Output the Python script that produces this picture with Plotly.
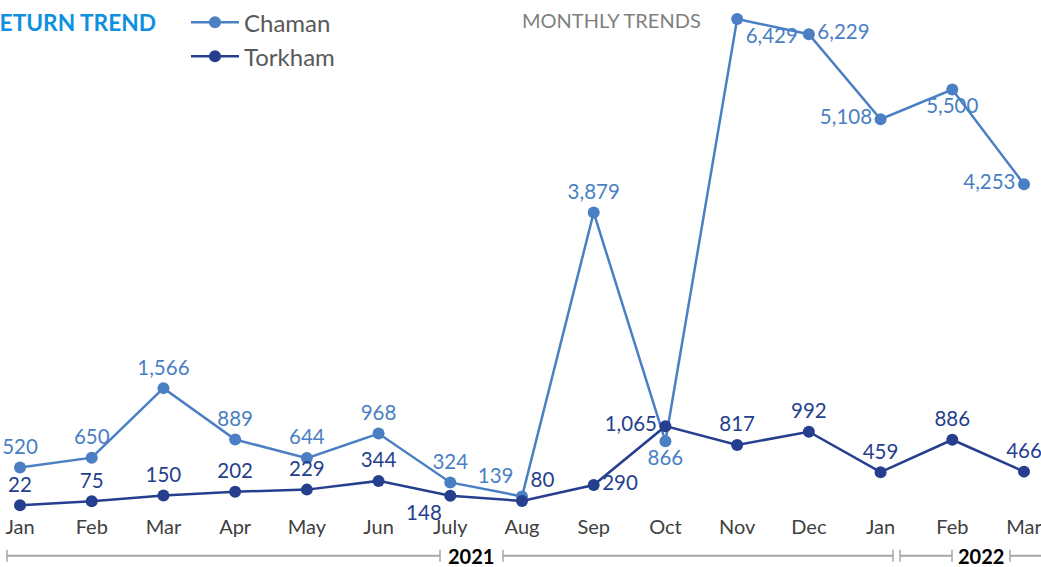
import plotly.graph_objects as go

months = ["Jan", "Feb", "Mar", "Apr", "May", "Jun", "July", "Aug", "Sep", "Oct",
          "Nov", "Dec", "Jan", "Feb", "Mar"]
chaman = [520, 650, 1566, 889, 644, 968, 324, 139, 3879, 866, 6429, 6229, 5108, 5500, 4253]
torkham = [22, 75, 150, 202, 229, 344, 148, 80, 290, 1065, 817, 992, 459, 886, 466]
chaman_pos = ["top center"] * 7 + ["top left", "top center", "bottom center",
              "bottom right", "middle right", "middle left", "bottom center", "middle left"]
torkham_pos = ["top center"] * 6 + ["bottom left", "top right", "middle right", "middle left",
               "top center", "top center", "top center", "top center", "top center"]
years = ["2021", "2022"]

xs = list(range(len(months)))
C_LIGHT = "#4a7fc3"
C_DARK = "#253f8e"
FONT = "Lato, Open Sans, sans-serif"

TOP, BOT, H = 10, 507, 567
PH = BOT - TOP
def py(p):
    return (BOT - p) / PH

fig = go.Figure()
fig.add_trace(go.Scatter(
    x=xs, y=chaman, name="Chaman", mode="lines+markers+text", legendgroup="a",
    line=dict(color=C_LIGHT, width=2.5), marker=dict(size=12, color=C_LIGHT),
    text=[f"{v:,}" for v in chaman], textposition=chaman_pos,
    textfont=dict(color=C_LIGHT, size=20.5, family=FONT), cliponaxis=False))
fig.add_trace(go.Scatter(
    x=xs, y=torkham, name="Torkham", mode="lines+markers+text", legendgroup="b",
    line=dict(color=C_DARK, width=2.5), marker=dict(size=12, color=C_DARK),
    text=[f"{v:,}" for v in torkham], textposition=torkham_pos,
    textfont=dict(color=C_DARK, size=20.5, family=FONT), cliponaxis=False))

W = 1041
def px2x(p):
    return -0.279 + p / W * (14.237 + 0.279)

GRAY = "#a6a6a6"
yb = py(556)
tk = 6 / PH
segs = [(7, 440), (503, 893), (900, 952), (1010, 1060)]
for a, b in segs:
    fig.add_shape(type="line", xref="x", yref="paper", x0=px2x(a), x1=px2x(b), y0=yb, y1=yb,
                  line=dict(color=GRAY, width=2))
    for p in (a, b):
        fig.add_shape(type="line", xref="x", yref="paper", x0=px2x(p), x1=px2x(p),
                      y0=yb - tk, y1=yb + tk, line=dict(color=GRAY, width=1.5))
fig.add_annotation(x=px2x(471), y=yb, xref="x", yref="paper", text=f"<b>{years[0]}</b>",
                   showarrow=False, yanchor="middle",
                   font=dict(size=20, color="#000000", family=FONT))
fig.add_annotation(x=px2x(981), y=yb, xref="x", yref="paper", text=f"<b>{years[1]}</b>",
                   showarrow=False, yanchor="middle",
                   font=dict(size=20, color="#000000", family=FONT))

fig.add_annotation(x=158 / W, y=py(21), xref="paper", yref="paper", xanchor="right", yanchor="middle",
                   text="<b>RETURN TREND</b>", showarrow=False,
                   font=dict(size=22.7, color="#0e90e0", family=FONT))
fig.add_annotation(x=520 / W, y=py(18), xref="paper", yref="paper", xanchor="left", yanchor="middle",
                   text="MONTHLY TRENDS", showarrow=False,
                   font=dict(size=20, color="#7f7f7f", family=FONT))

fig.update_layout(
    width=1041, height=H,
    margin=dict(l=0, r=0, t=TOP, b=H - BOT),
    plot_bgcolor="white", paper_bgcolor="white",
    showlegend=True,
    legend=dict(x=186 / W, y=py(-2), xanchor="left", yanchor="top",
                font=dict(size=24, color="#595959", family=FONT),
                itemwidth=48,
                bgcolor="rgba(0,0,0,0)", tracegroupgap=0),
    xaxis=dict(range=[-0.279, 14.237], tickvals=xs, ticktext=months, showgrid=False,
               zeroline=False, showline=False, ticks="", ticklabelstandoff=6,
               ticklabeloverflow="allow",
               tickfont=dict(size=20, color="#404040", family=FONT)),
    yaxis=dict(range=[0, 6521], visible=False, showgrid=False, zeroline=False),
)
fig.write_html("out.html", config={"displayModeBar": False},
               post_script="document.body.style.margin='0px';")
